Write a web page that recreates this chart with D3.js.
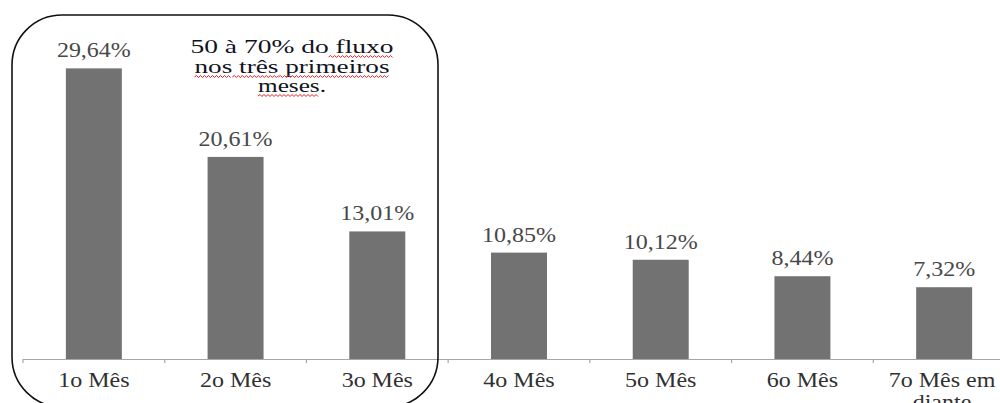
<!DOCTYPE html>
<html><head><meta charset="utf-8">
<script src="https://cdn.jsdelivr.net/npm/d3@7/dist/d3.min.js"></script>
<style>html,body{margin:0;padding:0;background:#fff;overflow:hidden} text{font-family:"Liberation Serif","Times New Roman",serif}</style>
</head><body>
<script>
const categories = ["1o Mês","2o Mês","3o Mês","4o Mês","5o Mês","6o Mês","7o Mês em|diante"];
const values = [29.64, 20.61, 13.01, 10.85, 10.12, 8.44, 7.32];
const valueLabels = ["29,64%","20,61%","13,01%","10,85%","10,12%","8,44%","7,32%"];
const noteLines = ["50 à 70% do fluxo","nos três primeiros","meses."];
const noteMisspelled = [["fluxo"],["nos","três","primeiros"],["meses"]];

const W = 1000, H = 403;
const svg = d3.select("body").append("svg").attr("width", W).attr("height", H);
const font = "'Liberation Serif','Times New Roman',serif";

const x = d3.scaleBand().domain(categories).range([23, 1015]).paddingInner(0.605).paddingOuter(0.3025);
const y = d3.scaleLinear().domain([0, 36]).range([359, 6]);

// bars
svg.selectAll("rect.bar").data(values).enter().append("rect")
  .attr("class","bar")
  .attr("x",(d,i)=>x(categories[i]))
  .attr("width",x.bandwidth())
  .attr("y",d=>y(d))
  .attr("height",d=>y(0)-y(d))
  .attr("fill","#727272");

// axis
const x0 = x.range()[0];
svg.append("line").attr("x1",x0).attr("x2",W).attr("y1",y(0)+0.5).attr("y2",y(0)+0.5)
  .attr("stroke","#a6a6a6").attr("stroke-width",1.2);
d3.range(categories.length+1).forEach(i=>{
  const tx = x0 + i*x.step();
  svg.append("line").attr("x1",tx).attr("x2",tx).attr("y1",y(0)).attr("y2",y(0)+4)
    .attr("stroke","#a6a6a6").attr("stroke-width",1.2);
});

function sText(g, txt, cx, by, size, fill, sx){
  return g.append("text").attr("transform",`translate(${cx},${by}) scale(${sx},1)`)
    .attr("text-anchor","middle").attr("font-family",font).attr("font-size",size)
    .attr("fill",fill).text(txt);
}

// value labels
values.forEach((v,i)=>{
  const cx = x(categories[i]) + x.bandwidth()/2;
  sText(svg, valueLabels[i], cx, y(v)-11, 20, "#484848", 1.2);
});

// category labels
categories.forEach((c,i)=>{
  const cx = x(c) + x.bandwidth()/2;
  c.split("|").forEach((ln,j)=>{
    sText(svg, ln, Math.min(cx, 942), 387 + j*22, 20, "#303030", 1.2);
  });
});

// rounded box
svg.append("rect").attr("x",12).attr("y",15).attr("width",426).attr("height",392)
  .attr("rx",50).attr("ry",50).attr("fill","none").attr("stroke","#111").attr("stroke-width",1.6);

// annotation
const noteY = [53, 73, 92];
const noteW = [203, 195, 68];
noteLines.forEach((ln,i)=>{
  svg.append("text").attr("x",292).attr("y",noteY[i]).attr("text-anchor","middle")
    .attr("font-family",font).attr("font-size",18.5).attr("fill","#10131c")
    .attr("textLength",noteW[i]).attr("lengthAdjust","spacingAndGlyphs").text(ln);
});
// red wavy spell-check underlines
const tmp = svg.append("text").attr("font-family",font).attr("font-size",18.5).attr("visibility","hidden");
function measure(s){ tmp.text(s); return tmp.node().getComputedTextLength(); }
noteLines.forEach((ln,i)=>{
  const full = measure(ln);
  const k = noteW[i]/full;
  const left = 292 - noteW[i]/2;
  let searchFrom = 0;
  noteMisspelled[i].forEach(w=>{
    const idx = ln.indexOf(w, searchFrom);
    searchFrom = idx + w.length;
    const a = left + measure(ln.slice(0,idx))*k;
    const b = left + measure(ln.slice(0,idx+w.length))*k;
    const yy = noteY[i] + 4;
    let p = `M${a},${yy}`;
    let up = true;
    for(let xx=a+2; xx<=b; xx+=2){ p += ` L${xx},${up?yy-1.5:yy+0.5}`; up=!up; }
    svg.append("path").attr("d",p).attr("fill","none").attr("stroke","#e02020").attr("stroke-width",1);
  });
});
tmp.remove();
</script>
</body></html>
